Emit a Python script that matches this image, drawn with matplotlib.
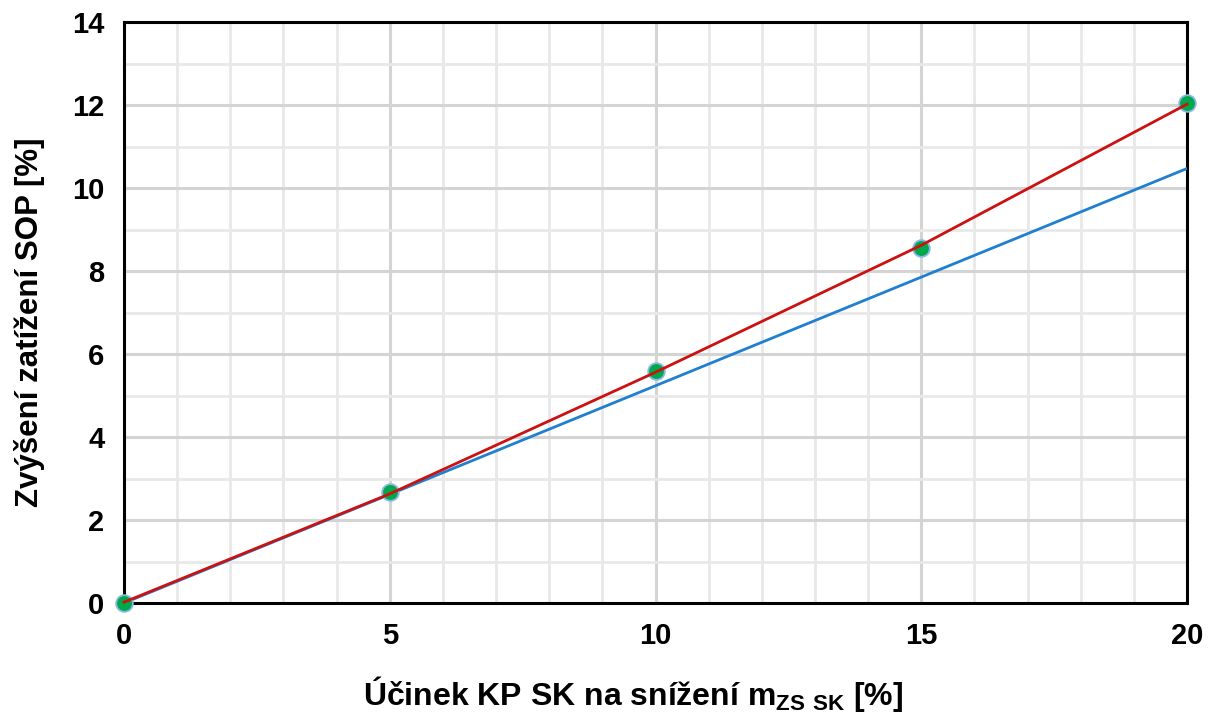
import numpy as np
import matplotlib.pyplot as plt
from matplotlib.ticker import MultipleLocator

plt.rcParams['font.family'] = ['Liberation Sans', 'DejaVu Sans']
plt.rcParams['font.weight'] = 'bold'
plt.rcParams['mathtext.fontset'] = 'custom'
plt.rcParams['mathtext.rm'] = 'Liberation Sans'
plt.rcParams['mathtext.bf'] = 'Liberation Sans:bold'

# measured points
x_pts = [0, 5, 10, 15, 20]
y_pts = [0.0, 2.68, 5.60, 8.55, 12.05]

# red trend curve
x_red = [0, 5, 10, 15, 20]
y_red = [0.02, 2.63, 5.56, 8.62, 12.02]

# blue linear line
x_blue = [0, 20]
y_blue = [0.0, 10.47]

fig = plt.figure(figsize=(12.21, 7.22), dpi=100)
ax = fig.add_axes([124 / 1221, 1 - 603 / 722, (1187 - 124) / 1221, (603 - 22) / 722])

ax.plot(x_blue, y_blue, color='#1f7fd0', lw=2.0, zorder=3)
ax.plot(x_pts, y_pts, ls='none', marker='o', ms=12, mfc='#00a84c',
        mec='#8ab8e6', mew=1.3, zorder=4, clip_on=False)
ax.plot(x_red, y_red, color='#cc1111', lw=2.0, zorder=5, clip_on=False)

ax.set_xlim(0, 20)
ax.set_ylim(0, 14)
ax.xaxis.set_major_locator(MultipleLocator(5))
ax.xaxis.set_minor_locator(MultipleLocator(1))
ax.yaxis.set_major_locator(MultipleLocator(2))
ax.yaxis.set_minor_locator(MultipleLocator(1))
ax.grid(which='major', color='#d4d4d4', lw=2.2, zorder=0)
ax.grid(which='minor', color='#e8e8e8', lw=2.0, zorder=0)
ax.set_axisbelow(True)

for s in ax.spines.values():
    s.set_linewidth(2.2)
    s.set_color('black')

ax.tick_params(which='both', length=0, labelsize=21, pad=14)
for lab in ax.get_xticklabels() + ax.get_yticklabels():
    lab.set_fontweight('bold')

ax.set_xlabel(r'Účinek KP SK na snížení m$_{\mathrm{ZS\ SK}}$ [%]', fontsize=23,
              fontweight='bold')
ax.xaxis.set_label_coords(0.479, -0.122)
ax.set_ylabel('Zvýšení zatížení SOP [%]', fontsize=22.5, fontweight='bold')
ax.yaxis.set_label_coords(-0.074, 0.483)

fig.savefig('out.png', dpi=100)
